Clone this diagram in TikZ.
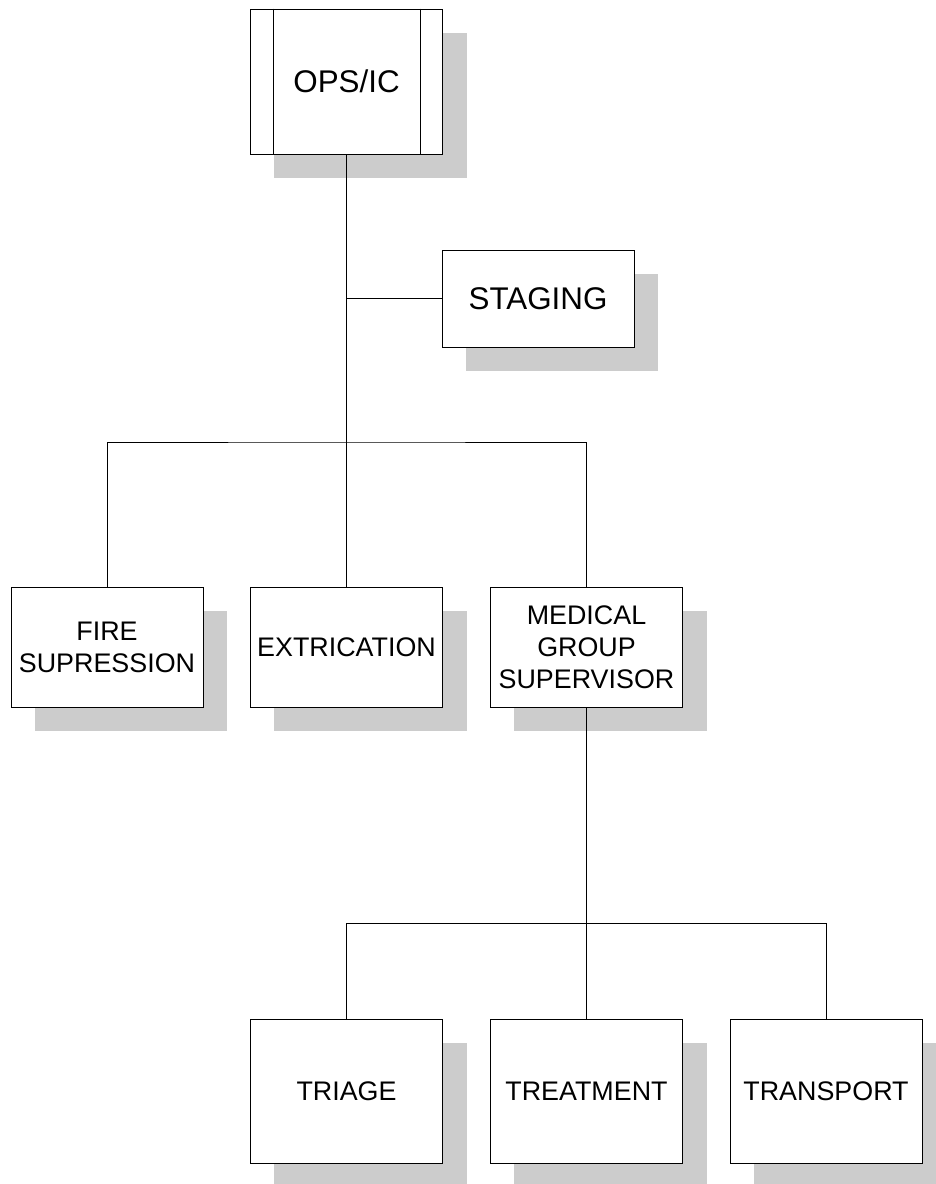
\documentclass[tikz,border=0pt]{standalone}
\usepackage{fontspec}
\setmainfont{Liberation Sans}
\usetikzlibrary{shadows}
\tikzset{
  orgbox/.style={draw, fill=white, line width=0.6pt, minimum width=4.8cm, align=center, inner sep=0pt,
    drop shadow={shadow xshift=0.6cm, shadow yshift=-0.6cm, fill=gray!40, opacity=1}},
  bigtext/.style={font=\fontsize{22.3}{26}\selectfont},
  smalltext/.style={font=\fontsize{19.1}{22.6}\selectfont},
  link/.style={line width=0.6pt}
}
\begin{document}
\begin{tikzpicture}[x=0.025cm, y=-0.025cm]
\useasboundingbox (0,0) rectangle (935,1184);
\node[orgbox, bigtext, minimum height=3.625cm] (ops) at (346.5,81.5) {OPS/IC};
\draw[link] ([xshift=0.575cm]ops.north west) -- ([xshift=0.575cm]ops.south west);
\draw[link] ([xshift=-0.575cm]ops.north east) -- ([xshift=-0.575cm]ops.south east);
\node[orgbox, bigtext, minimum height=2.425cm] (staging) at (538,298.5) {STAGING};
%
\node[orgbox, smalltext, minimum height=3cm] (fire) at (107,647) {FIRE\\SUPRESSION};
\node[orgbox, smalltext, minimum height=3cm] (extrication) at (346.5,647) {EXTRICATION};
\node[orgbox, smalltext, minimum height=3cm] (medical) at (586.5,647) {MEDICAL\\GROUP\\SUPERVISOR};
%
\node[orgbox, smalltext, minimum height=3.6cm] (triage) at (346.5,1091) {TRIAGE};
\node[orgbox, smalltext, minimum height=3.6cm] (treatment) at (586.5,1091) {TREATMENT};
\node[orgbox, smalltext, minimum height=3.6cm] (transport) at (826,1091) {TRANSPORT};
%
\coordinate (upperbar) at (346.5,442);
\coordinate (lowerbar) at (586.5,923);
\draw[link] (ops.south) -- (extrication.north);
\draw[link] (ops.south |- staging.west) -- (staging.west);
\draw[link] (fire.north) |- (upperbar) -| (medical.north);
\draw[link] (medical.south) -- (treatment.north);
\draw[link] (triage.north) |- (lowerbar) -| (transport.north);
\end{tikzpicture}
\end{document}
